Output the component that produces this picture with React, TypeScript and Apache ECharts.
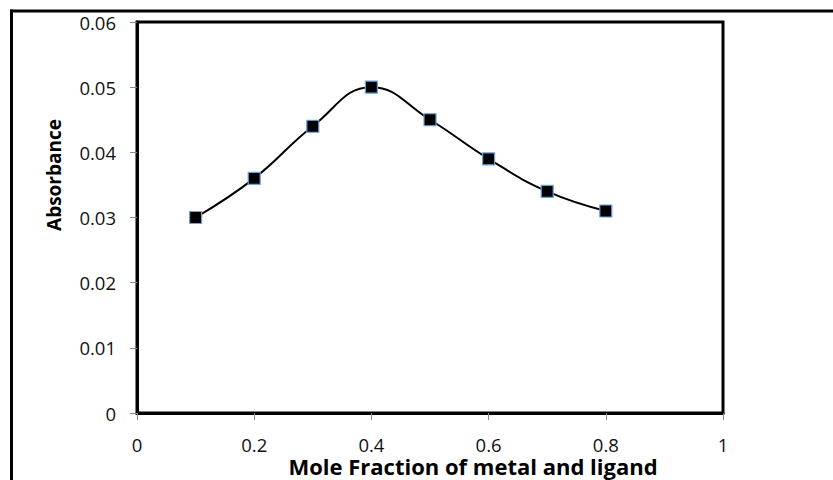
import React, { useEffect, useRef } from "react";
import * as echarts from "echarts";

// Job's method: absorbance against mole fraction
const moleFraction = [0.1, 0.2, 0.3, 0.4, 0.5, 0.6, 0.7, 0.8];
const absorbance = [0.03, 0.036, 0.044, 0.05, 0.045, 0.039, 0.034, 0.031];

const xTitle = "Mole Fraction of metal and ligand";
const yTitle = "Absorbance";

const FONT = "'Open Sans', 'Liberation Sans', sans-serif";

export default function App() {
  const ref = useRef<HTMLDivElement>(null);

  useEffect(() => {
    if (!ref.current) return;
    const chart = echarts.init(ref.current, undefined, { renderer: "svg" });
    const points = moleFraction.map((x, i) => [x, absorbance[i]]);

    chart.setOption({
      animation: false,
      backgroundColor: "#fff",
      grid: {
        left: 137,
        right: 110,
        top: 22,
        bottom: 67,
        show: true,
        borderColor: "#000",
        borderWidth: 3,
        backgroundColor: "transparent",
      },
      xAxis: {
        type: "value",
        min: 0,
        max: 1,
        interval: 0.2,
        splitLine: { show: false },
        axisLine: { show: true, onZero: false, lineStyle: { color: "#000", width: 3 } },
        axisTick: { show: true, length: 7, lineStyle: { color: "#888", width: 1 } },
        axisLabel: {
          margin: 24,
          lineHeight: 15,
          fontFamily: FONT,
          fontSize: 18.5,
          color: "#111",
          formatter: (v: number) => String(+v.toFixed(1)),
        },
      },
      yAxis: {
        type: "value",
        min: 0,
        max: 0.06,
        interval: 0.01,
        splitLine: { show: false },
        axisLine: { show: true, onZero: false, lineStyle: { color: "#000", width: 3 } },
        axisTick: { show: true, length: 7, lineStyle: { color: "#888", width: 1 } },
        axisLabel: {
          margin: 21,
          fontFamily: FONT,
          fontSize: 18.5,
          color: "#111",
          formatter: (v: number) => (v === 0 ? "0" : v.toFixed(2)),
        },
      },
      series: [
        {
          type: "line",
          data: points,
          smooth: 0.45,
          symbol: "rect",
          symbolSize: 12,
          lineStyle: { color: "#000", width: 2 },
          itemStyle: { color: "#000", borderColor: "#6fa3dc", borderWidth: 1.2 },
        },
      ],
      graphic: [
        // outer frame (top and left edges)
        {
          type: "line",
          shape: { x1: 10, y1: 11, x2: 833, y2: 11 },
          style: { stroke: "#000", lineWidth: 3 },
        },
        {
          type: "line",
          shape: { x1: 11.5, y1: 9.5, x2: 11.5, y2: 480 },
          style: { stroke: "#000", lineWidth: 3 },
        },
        {
          type: "text",
          x: 473,
          y: 466,
          style: {
            text: xTitle,
            fontFamily: FONT,
            fontSize: 22,
            lineHeight: 14,
            fontWeight: "bold",
            fill: "#000",
            align: "center",
            verticalAlign: "middle",
          },
        },
        {
          type: "text",
          x: 54,
          y: 175,
          rotation: Math.PI / 2,
          style: {
            text: yTitle,
            fontFamily: FONT,
            fontSize: 19,
            fontWeight: "bold",
            fill: "#000",
            align: "center",
            verticalAlign: "middle",
          },
        },
      ],
    });

    return () => chart.dispose();
  }, []);

  return (
    <div
      ref={ref}
      style={{ position: "absolute", left: 0, top: 0, width: 833, height: 480 }}
    />
  );
}
